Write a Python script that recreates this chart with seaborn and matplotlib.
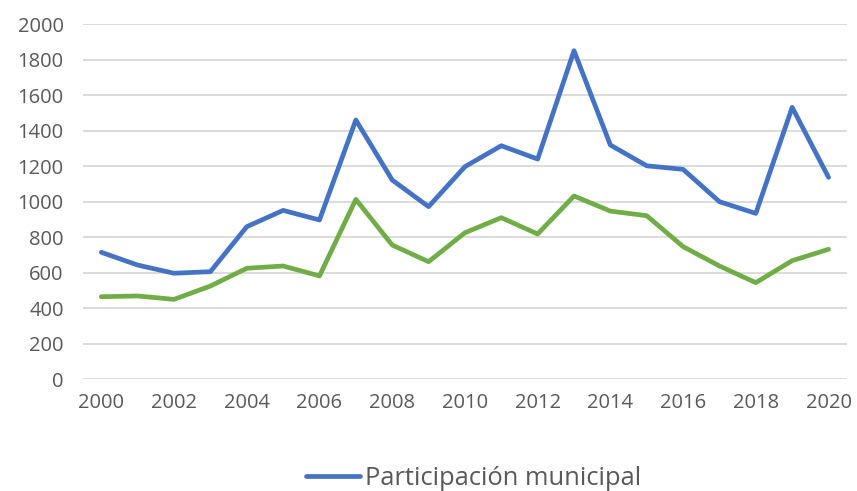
import pandas as pd
import seaborn as sns
import matplotlib.pyplot as plt

years = list(range(2000, 2021))
participacion_municipal = [715, 643, 597, 606, 859, 951, 897, 1460, 1122, 972, 1197,
                           1315, 1240, 1850, 1319, 1202, 1182, 1000, 934, 1531, 1137]
serie_verde = [465, 469, 450, 525, 625, 638, 582, 1013, 756, 662, 825,
               910, 818, 1032, 947, 921, 747, 638, 544, 668, 732]

df = pd.DataFrame({'anio': years,
                   'Participación municipal': participacion_municipal,
                   'verde': serie_verde})

sns.set_style('white')
plt.rcParams['font.family'] = ['Open Sans', 'DejaVu Sans']

fig = plt.figure(figsize=(8.57, 4.91), dpi=100)
ax = fig.add_axes([0.097, 0.2275, 0.891, 0.7235])

sns.lineplot(data=df, x='anio', y='Participación municipal', color='#4472C4',
             linewidth=3.4, label='Participación municipal', ax=ax, legend=False)
sns.lineplot(data=df, x='anio', y='verde', color='#70AD47', linewidth=3.4,
             ax=ax, legend=False)

ax.set_xlim(1999.5, 2020.5)
ax.set_ylim(0, 2000)
ax.set_xticks(range(2000, 2021, 2))
ax.set_yticks(range(0, 2001, 200))
ax.grid(axis='y', color='#D9D9D9', linewidth=1.3)
ax.set_axisbelow(True)
for s in ax.spines.values():
    s.set_visible(False)
ax.tick_params(axis='both', length=0, labelsize=14.5, colors='#595959')
ax.tick_params(axis='y', pad=14)
ax.tick_params(axis='x', pad=10)
ax.set_xlabel('')
ax.set_ylabel('')

handles, labels = ax.get_legend_handles_labels()
fig.legend(handles[:1], labels[:1], loc='center', bbox_to_anchor=(0.553, 0.025),
           frameon=False, fontsize=18.4, labelcolor='#595959', handlelength=2.1,
           handletextpad=0.2)

fig.savefig('out.png', dpi=100)
